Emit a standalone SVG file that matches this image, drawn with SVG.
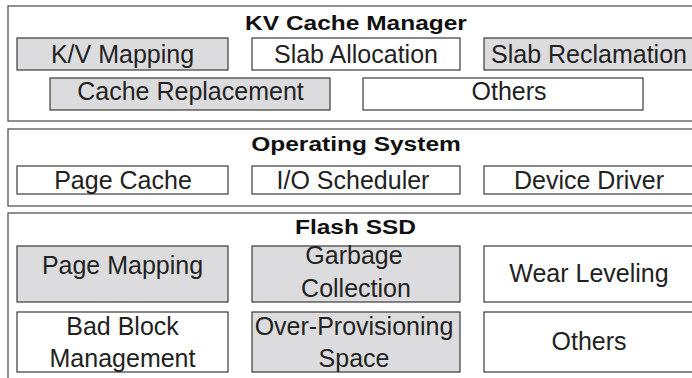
<svg xmlns="http://www.w3.org/2000/svg" width="692" height="378" viewBox="0 0 692 378">
  <style>
    .frame { fill: #ffffff; stroke: #555555; stroke-width: 1.3; }
    .box { fill: #ffffff; stroke: #3a3a3a; stroke-width: 1.2; }
    .box.shaded { fill: #dcdcde; }
    .label { font-family: "Liberation Sans", Arial, sans-serif; font-size: 25px; fill: #222222; text-anchor: middle; }
    .title { font-family: "Liberation Sans", Arial, sans-serif; font-size: 24.5px; font-weight: bold; fill: #111111; text-anchor: middle; }
  </style>
  <rect width="692" height="378" fill="#ffffff"/>

  <!-- Layer: KV cache manager -->
  <g id="layer-kv-cache-manager">
    <rect class="frame" x="8" y="6" width="700" height="115"/>
    <text class="title" transform="translate(356 30) scale(1 0.8)">KV Cache Manager</text>
  </g>
  <g id="kv-mapping">
    <rect class="box shaded" x="17" y="38" width="211" height="32"/>
    <text class="label" x="122.5" y="62.5">K/V Mapping</text>
  </g>
  <g id="slab-allocation">
    <rect class="box" x="252" y="38" width="208" height="32"/>
    <text class="label" x="356" y="62.5">Slab Allocation</text>
  </g>
  <g id="slab-reclamation">
    <rect class="box shaded" x="484" y="38" width="210" height="32"/>
    <text class="label" x="589" y="62.5">Slab Reclamation</text>
  </g>
  <g id="cache-replacement">
    <rect class="box shaded" x="50" y="78" width="280" height="32"/>
    <text class="label" x="190.5" y="100">Cache Replacement</text>
  </g>
  <g id="kv-others">
    <rect class="box" x="363" y="78" width="280" height="32"/>
    <text class="label" x="509" y="100">Others</text>
  </g>

  <!-- Layer: operating system -->
  <g id="layer-operating-system">
    <rect class="frame" x="8" y="129" width="700" height="77"/>
    <text class="title" transform="translate(356 151) scale(1 0.8)">Operating System</text>
  </g>
  <g id="page-cache">
    <rect class="box" x="17" y="166" width="211" height="28"/>
    <text class="label" x="123" y="188.5">Page Cache</text>
  </g>
  <g id="io-scheduler">
    <rect class="box" x="252" y="166" width="208" height="28"/>
    <text class="label" x="353" y="188.5">I/O Scheduler</text>
  </g>
  <g id="device-driver">
    <rect class="box" x="484" y="166" width="210" height="28"/>
    <text class="label" x="589" y="188.5">Device Driver</text>
  </g>

  <!-- Layer: flash SSD -->
  <g id="layer-flash-ssd">
    <rect class="frame" x="8" y="213" width="700" height="200"/>
    <text class="title" transform="translate(355.5 234) scale(1 0.8)">Flash SSD</text>
  </g>
  <g id="page-mapping">
    <rect class="box shaded" x="17" y="246" width="211" height="56"/>
    <text class="label" x="122.5" y="274">Page Mapping</text>
  </g>
  <g id="garbage-collection">
    <rect class="box shaded" x="252" y="246" width="208" height="56"/>
    <text class="label" x="354" y="264">Garbage</text>
    <text class="label" x="356" y="297">Collection</text>
  </g>
  <g id="wear-leveling">
    <rect class="box" x="484" y="246" width="210" height="56"/>
    <text class="label" x="589" y="282">Wear Leveling</text>
  </g>
  <g id="bad-block-management">
    <rect class="box" x="17" y="312" width="211" height="60"/>
    <text class="label" x="122.5" y="335">Bad Block</text>
    <text class="label" x="122.5" y="366.5">Management</text>
  </g>
  <g id="over-provisioning-space">
    <rect class="box shaded" x="252" y="312" width="208" height="60"/>
    <text class="label" x="354" y="335">Over-Provisioning</text>
    <text class="label" x="354" y="367">Space</text>
  </g>
  <g id="ssd-others">
    <rect class="box" x="484" y="312" width="210" height="60"/>
    <text class="label" x="589" y="350">Others</text>
  </g>
</svg>
